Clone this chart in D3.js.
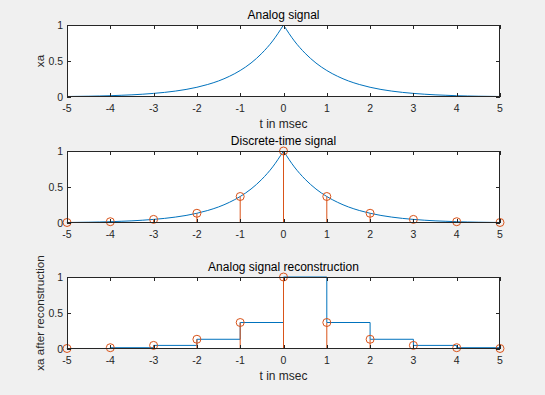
<!DOCTYPE html>
<html>
<head>
<meta charset="utf-8">
<script src="https://cdn.jsdelivr.net/npm/d3@7"></script>
<style>
  body { margin: 0; background: #f0f0f0; }
  svg { display: block; font-family: "Liberation Sans", Arial, sans-serif; }
</style>
</head>
<body>
<div id="wrapper"></div>
<script>
// analog signal (t in msec, step 0.25)
const tAnalog = [-5, -4.75, -4.5, -4.25, -4, -3.75, -3.5, -3.25, -3, -2.75, -2.5, -2.25, -2, -1.75, -1.5, -1.25, -1, -0.75, -0.5, -0.25,
  0, 0.25, 0.5, 0.75, 1, 1.25, 1.5, 1.75, 2, 2.25, 2.5, 2.75, 3, 3.25, 3.5, 3.75, 4, 4.25, 4.5, 4.75, 5]
const xaAnalog = [0.007, 0.009, 0.011, 0.014, 0.018, 0.024, 0.030, 0.039, 0.050, 0.064, 0.082, 0.105, 0.135, 0.174, 0.223, 0.287, 0.368, 0.472, 0.607, 0.779,
  1, 0.779, 0.607, 0.472, 0.368, 0.287, 0.223, 0.174, 0.135, 0.105, 0.082, 0.064, 0.050, 0.039, 0.030, 0.024, 0.018, 0.014, 0.011, 0.009, 0.007]

// samples (n in msec)
const nSamples = [-5, -4, -3, -2, -1, 0, 1, 2, 3, 4, 5]
const xSamples = [0.007, 0.018, 0.050, 0.135, 0.368, 1, 0.368, 0.135, 0.050, 0.018, 0.007]

const xTicks = [-5, -4, -3, -2, -1, 0, 1, 2, 3, 4, 5]
const yTicks = [0, 0.5, 1]

const blue = '#0072BD'
const orange = '#D95319'
const ink = '#262626'

const width = 545, height = 395
const svg = d3.select('#wrapper').append('svg')
  .attr('width', width).attr('height', height)

const left = 67, right = 500, axH = 72
const panels = [
  { top: 25, title: 'Analog signal', ylabel: 'xa', xlabel: 't in msec' },
  { top: 151, title: 'Discrete-time signal', ylabel: null, xlabel: null },
  { top: 277, title: 'Analog signal reconstruction', ylabel: 'xa after reconstruction', xlabel: 't in msec' }
]

const xScale = d3.scaleLinear().domain([-5, 5]).range([left, right])

const analog = tAnalog.map((t, i) => ({ t, v: xaAnalog[i] }))
const samples = nSamples.map((n, i) => ({ n, v: xSamples[i] }))

panels.forEach((p, k) => {
  const yScale = d3.scaleLinear().domain([0, 1]).range([p.top + axH, p.top])
  const g = svg.append('g')

  g.append('rect')
    .attr('x', left).attr('y', p.top)
    .attr('width', right - left).attr('height', axH)
    .attr('fill', 'white')

  const clipId = 'clip' + k
  g.append('clipPath').attr('id', clipId).append('rect')
    .attr('x', left - 6).attr('y', p.top - 6)
    .attr('width', right - left + 12).attr('height', axH + 12)

  const plot = g.append('g').attr('clip-path', `url(#${clipId})`)

  if (k < 2) {
    const line = d3.line().x(d => xScale(d.t)).y(d => yScale(d.v)).curve(d3.curveMonotoneX)
    plot.append('path').attr('d', line(analog.filter(d => d.t <= 0)))
      .attr('fill', 'none').attr('stroke', blue).attr('stroke-width', 1)
    plot.append('path').attr('d', line(analog.filter(d => d.t >= 0)))
      .attr('fill', 'none').attr('stroke', blue).attr('stroke-width', 1)
  } else {
    // zero-order hold reconstruction
    const stair = d3.line().x(d => xScale(d.n)).y(d => yScale(d.v)).curve(d3.curveStepAfter)
    plot.append('path').attr('d', stair(samples))
      .attr('fill', 'none').attr('stroke', blue).attr('stroke-width', 1)
  }

  if (k > 0) {
    plot.selectAll('line.stem').data(samples).enter().append('line')
      .attr('x1', d => xScale(d.n)).attr('x2', d => xScale(d.n))
      .attr('y1', yScale(0)).attr('y2', d => yScale(d.v))
      .attr('stroke', orange).attr('stroke-width', 1)
    plot.selectAll('circle').data(samples).enter().append('circle')
      .attr('cx', d => xScale(d.n)).attr('cy', d => yScale(d.v))
      .attr('r', 4).attr('fill', 'none')
      .attr('stroke', orange).attr('stroke-width', 1)
  }

  // axes box with inward ticks on all sides
  const tl = 4
  const axes = g.append('g').attr('stroke', ink).attr('stroke-width', 1).attr('fill', 'none')
  axes.append('rect')
    .attr('x', left + 0.5).attr('y', p.top + 0.5)
    .attr('width', right - left - 1).attr('height', axH - 1)
  xTicks.forEach(t => {
    const x = Math.round(xScale(t)) + 0.5
    axes.append('line').attr('x1', x).attr('x2', x).attr('y1', p.top + axH).attr('y2', p.top + axH - tl)
    axes.append('line').attr('x1', x).attr('x2', x).attr('y1', p.top).attr('y2', p.top + tl)
  })
  yTicks.forEach(v => {
    const y = Math.round(yScale(v)) + 0.5
    axes.append('line').attr('x1', left).attr('x2', left + tl).attr('y1', y).attr('y2', y)
    axes.append('line').attr('x1', right).attr('x2', right - tl).attr('y1', y).attr('y2', y)
  })

  g.append('g').selectAll('text').data(xTicks).enter().append('text')
    .attr('x', d => xScale(d)).attr('y', p.top + axH + 15)
    .attr('text-anchor', 'middle').attr('font-size', 10.5).attr('fill', ink)
    .text(d => d)
  g.append('g').selectAll('text').data(yTicks).enter().append('text')
    .attr('x', left - 4).attr('y', d => yScale(d) + 4)
    .attr('text-anchor', 'end').attr('font-size', 10.5).attr('fill', ink)
    .text(d => d)

  g.append('text')
    .attr('x', (left + right) / 2).attr('y', p.top - 6)
    .attr('text-anchor', 'middle').attr('font-size', 12).attr('fill', 'black')
    .text(p.title)

  if (p.xlabel) {
    g.append('text')
      .attr('x', (left + right) / 2).attr('y', p.top + axH + 31)
      .attr('text-anchor', 'middle').attr('font-size', 12).attr('fill', ink)
      .text(p.xlabel)
  }
  if (p.ylabel) {
    g.append('text')
      .attr('transform', `translate(44 ${p.top + axH / 2}) rotate(-90)`)
      .attr('text-anchor', 'middle').attr('font-size', 11.7).attr('fill', ink)
      .text(p.ylabel)
  }
})
</script>
</body>
</html>
